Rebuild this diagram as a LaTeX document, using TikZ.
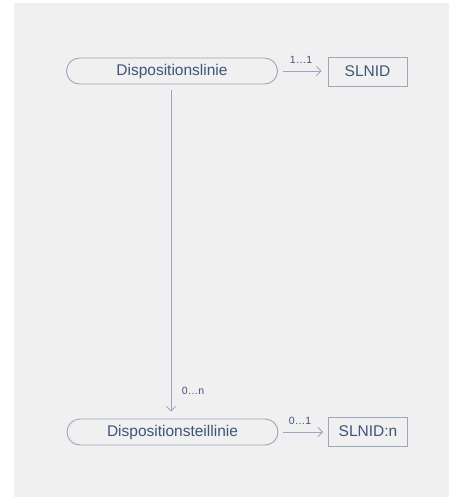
\documentclass[tikz,border=0pt]{standalone}
\usepackage{fontspec}
\setmainfont{Liberation Sans}
\usetikzlibrary{arrows.meta}
\definecolor{bgpanel}{HTML}{F0F0F0}
\definecolor{edgeblue}{HTML}{9AA7BE}
\definecolor{inkblue}{HTML}{3F5479}
\tikzset{
  entity/.style={draw=edgeblue, line width=0.9pt, rounded corners=13pt,
    minimum width=211pt, minimum height=26pt, inner sep=0pt,
    text=inkblue, font=\fontsize{15.5}{15.5}\selectfont},
  keybox/.style={draw=edgeblue, line width=0.9pt, fill=bgpanel,
    minimum width=79pt, minimum height=29pt, inner sep=0pt,
    text=inkblue, font=\fontsize{15.5}{15.5}\selectfont},
  link/.style={draw=edgeblue, line width=0.8pt,
    -{Straight Barb[length=4.5pt,width=9pt]}},
  card/.style={text=inkblue, font=\fontsize{10.5}{10.5}\selectfont, inner sep=0pt}
}
\begin{document}
\begin{tikzpicture}[x=1pt,y=-1pt]
  % canvas and grey panel
  \fill[white] (0,0) rectangle (449,498);
  \fill[bgpanel] (14,3) rectangle (449,497);
  \useasboundingbox (0,0) rectangle (449,498);

  % entities
  \node[entity] (linie) at (172,71) {Dispositionslinie};
  \node[keybox] (slnid) at (367.5,71.5) {SLNID};
  \node[entity] (teil) at (172.5,432) {Dispositionsteillinie};
  \node[keybox] (slnidn) at (368,431.5) {SLNID:n};

  % relations
  \draw[link, shorten <=5pt, shorten >=6pt] (linie.east) -- (linie.east -| slnid.west);
  \draw[link, shorten <=5pt, shorten >=5pt] (teil.east) -- (teil.east -| slnidn.west);
  \draw[link, shorten <=6pt, shorten >=7pt] (linie.south -| 171,0) -- (teil.north -| 171,0);

  % cardinalities
  \node[card] (c11) at (301,60) {1…1};
  \node[card] (c01) at (300,421) {0…1};
  \node[card] (c0n) at (193,391) {0…n};
\end{tikzpicture}
\end{document}
